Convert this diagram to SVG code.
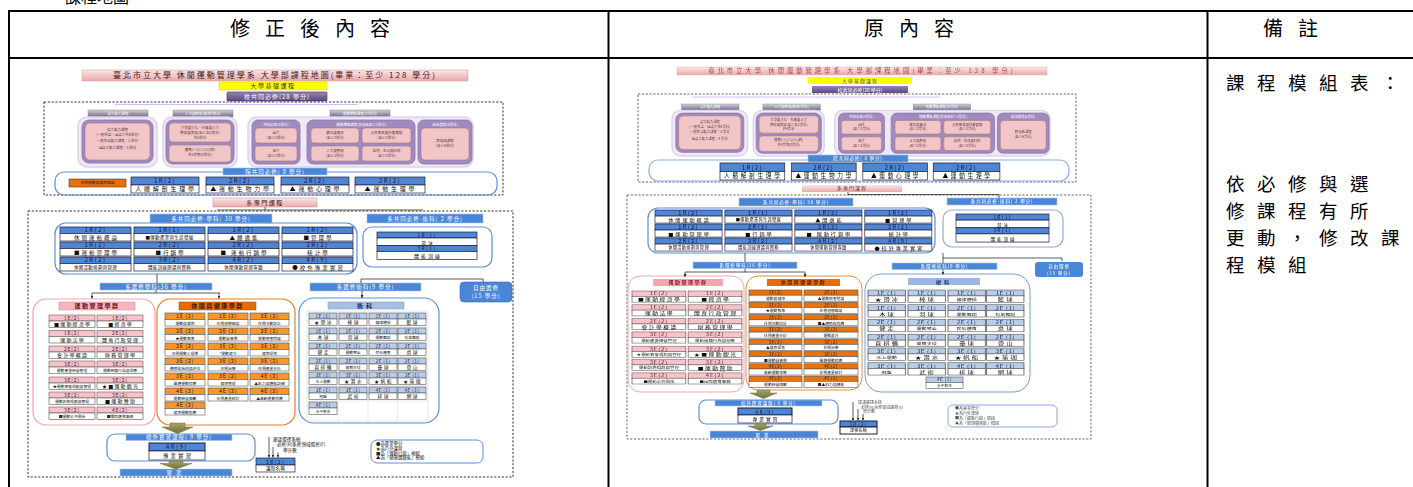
<svg xmlns="http://www.w3.org/2000/svg" width="1413" height="487" viewBox="0 0 1413 487">
<defs>
<style>
text{font-family:"Noto Sans CJK TC","Noto Sans CJK SC","Liberation Sans",sans-serif}
.hd{font-size:20px;letter-spacing:15px;fill:#000}
.rm{font-size:18.5px;letter-spacing:12.5px;fill:#000}
.tb{stroke:#000;stroke-width:2;fill:none}
.dash{fill:none;stroke:#333;stroke-width:1;stroke-dasharray:2.2 1.6}
.bb{fill:#4a86d6;stroke:#a9c2e8;stroke-width:0.6}
.bt{fill:#fff;font-size:5.5px;text-anchor:middle;letter-spacing:1px}
.bts{fill:#fff;font-size:4.6px;text-anchor:middle;letter-spacing:0.8px}
.ob{fill:none;stroke:#5b8fd8;stroke-width:1.2}
.ct{fill:#4f86d4;stroke:#1d1d3d;stroke-width:0.7}
.cw{fill:#fff;stroke:#1d1d3d;stroke-width:0.7}
.tl{font-size:6px;text-anchor:middle;fill:#14143a;letter-spacing:1.5px}
.tx{font-size:5.5px;text-anchor:middle;fill:#111;letter-spacing:2px}
.tx2{font-size:6px;text-anchor:middle;fill:#111;letter-spacing:2.8px}
.ts{font-size:4.5px;text-anchor:middle;fill:#111;letter-spacing:0.3px}
.pk{fill:#f7c3ca;stroke:#6e5a5a;stroke-width:0.6}
.og{fill:#f7962a;stroke:#555;stroke-width:0.6}
.og2{fill:#e8730f;stroke:#555;stroke-width:0.6}
.lb{fill:#b9cde6;stroke:#555;stroke-width:0.6}
.wb{fill:#fff;stroke:#555;stroke-width:0.6}
.tp{font-size:5px;text-anchor:middle;fill:#6a1020;letter-spacing:0.8px}
.tp2{font-size:5.5px;text-anchor:middle;fill:#222;letter-spacing:0.6px}
.tp3{font-size:4.8px;text-anchor:middle;fill:#1a2a5a;letter-spacing:0.4px}
.tm{font-size:5px;text-anchor:middle;fill:#111;letter-spacing:1.2px}
.tpe{font-size:4.8px;text-anchor:middle;fill:#111;letter-spacing:1.5px}
.tms{font-size:3.8px;text-anchor:middle;fill:#222}
.lav{fill:#efe9f6;stroke:#ddd3ea;stroke-width:1.5}
.pur{fill:#a08ac0;stroke:#8a74aa;stroke-width:0.8}
.pnk{fill:#f2c6c6;stroke:#a07a80;stroke-width:0.6}
.cat{fill:url(#gcat);stroke:#777;stroke-width:0.4}
.tiny{font-size:3.5px;text-anchor:middle;fill:#5a3a4a}
.tcat{font-size:3.5px;text-anchor:middle;fill:#fff}
.conn{stroke:#333;stroke-width:0.8;fill:none}
.olive{fill:url(#golive);stroke:#6b6b3a;stroke-width:0.5}
.gh{font-size:6px;text-anchor:middle;letter-spacing:1.5px;font-weight:bold}
.nt{font-size:4.6px;fill:#222}
.ntr{font-size:4px;fill:#555}
</style>
<linearGradient id="gpink" x1="0" y1="0" x2="0" y2="1"><stop offset="0" stop-color="#fbe6e6"/><stop offset="1" stop-color="#e9a9a9"/></linearGradient>
<linearGradient id="gpur" x1="0" y1="0" x2="0" y2="1"><stop offset="0" stop-color="#9a84bb"/><stop offset="1" stop-color="#5a477a"/></linearGradient>
<linearGradient id="gcat" x1="0" y1="0" x2="0" y2="1"><stop offset="0" stop-color="#d5d0e0"/><stop offset="1" stop-color="#6d6a80"/></linearGradient>
<linearGradient id="golive" x1="0" y1="0" x2="0" y2="1"><stop offset="0" stop-color="#a5a566"/><stop offset="1" stop-color="#6e6e38"/></linearGradient>
<filter id="soft" x="-5%" y="-5%" width="110%" height="110%"><feGaussianBlur stdDeviation="0.45"/></filter>
<marker id="ar" viewBox="0 0 4 4" refX="4" refY="2" markerWidth="3" markerHeight="3" orient="auto" markerUnits="userSpaceOnUse"><path d="M0,0L4,2L0,4z" fill="#222"/></marker>
</defs>
<rect x="0" y="0" width="1413" height="487" fill="#fff"/>
<text x="65" y="3" style="font-size:16px;fill:#000">課程地圖</text>

<g id="table">
<line class="tb" x1="8" y1="11" x2="1413" y2="11"/>
<line class="tb" x1="9" y1="10" x2="9" y2="487"/>
<line class="tb" x1="8" y1="58" x2="1413" y2="58"/>
<line class="tb" x1="608.5" y1="10" x2="608.5" y2="487"/>
<line class="tb" x1="1207.5" y1="10" x2="1207.5" y2="487"/>
<text class="hd" x="230" y="36">修正後內容</text>
<text class="hd" x="864" y="36">原內容</text>
<text class="hd" x="1263" y="36">備註</text>
</g>

<g id="remark">
<text class="rm" x="1226" y="90">課程模組表：</text>
<text class="rm" x="1226" y="191">依必修與選</text>
<text class="rm" x="1226" y="218">修課程有所</text>
<text class="rm" x="1226" y="245">更動，修改課</text>
<text class="rm" x="1226" y="272">程模組</text>
</g>

<!-- ============ LEFT: revised map ============ -->
<g id="left-map">
<g id="L-title"><rect x="82" y="70" width="386" height="11" fill="url(#gpink)" stroke="#d8a8a8" stroke-width="0.6"/><text x="275" y="78.3" style="font-size:8px;letter-spacing:2px;fill:#4a1818;text-anchor:middle">臺北市立大學 休閒運動管理學系 大學部課程地圖(畢業：至少 128 學分)</text></g>
<g id="L-basic"><rect x="219" y="82" width="108" height="8" fill="#ffff00" stroke="#d0d000" stroke-width="0.5"/><text x="273" y="88.3" style="font-size:6px;letter-spacing:1.5px;text-anchor:middle;fill:#333">大學基礎課程</text></g>
<g id="L-univ"><rect x="227" y="92" width="100" height="9" rx="1" fill="url(#gpur)" stroke="#3f3060" stroke-width="0.6"/><text x="277" y="98.8" style="font-size:6px;letter-spacing:1px;text-anchor:middle;fill:#fff">校共同必修(28 學分)</text></g>
<rect class="dash" x="44" y="102" width="459" height="93"/>
<line x1="115" y1="104.5" x2="358" y2="104.5" stroke="#dcb8f4" stroke-width="1.2"/>
<line x1="277" y1="101" x2="277" y2="104.5" stroke="#dcb8f4" stroke-width="1.2"/>

<g id="L-gen">
<rect class="cat" x="88" y="110" width="60" height="7"/><text class="tcat" x="118" y="114.8">語文能力課程</text>
<rect class="cat" x="173" y="110" width="60" height="7"/><text class="tcat" x="203" y="114.8">人文與藝術(應用7學分)</text>
<rect class="cat" x="330" y="110" width="60" height="7"/><text class="tcat" x="360" y="114.8">通識博雅課程(22學分)</text>
<rect class="lav" x="78" y="117" width="79" height="50" rx="9"/>
<rect class="pur" x="82" y="120" width="71" height="43" rx="7"/>
<rect class="pnk" x="85" y="123" width="65" height="37" rx="5"/>
<text class="tiny" x="117.5" y="131">語文能力課程</text><text class="tiny" x="117.5" y="136">(一般外語、國語文共6學分)</text><text class="tiny" x="117.5" y="142">一般外語能力課程：2 學分</text><text class="tiny" x="117.5" y="149">國語文能力課程：4 學分</text>
<rect class="lav" x="163" y="117" width="74" height="50" rx="9"/>
<rect class="pur" x="166" y="120" width="68" height="44" rx="7"/>
<rect class="pnk" x="169" y="123" width="62" height="19" rx="4"/>
<rect class="pnk" x="169" y="145" width="62" height="17" rx="4"/>
<text class="tiny" x="200" y="129">文學與文化、社會與人文</text><text class="tiny" x="200" y="134">藝術與美感(至少各2學分)</text><text class="tiny" x="200" y="139">共4學分</text>
<text class="tiny" x="200" y="151">體育(一)(二)(三)(四)</text><text class="tiny" x="200" y="156">共4學期(0學分)</text>
<rect class="lav" x="248" y="117" width="225" height="50" rx="9"/>
<rect class="pur" x="252" y="120" width="48" height="44" rx="6"/>
<text class="tiny" x="276" y="125.5" style="fill:#fff">共同必修(4學分)</text>
<rect class="pnk" x="255" y="128" width="42" height="15" rx="3"/><text class="tiny" x="276" y="134">國文</text><text class="tiny" x="276" y="139">(至少2學分)</text>
<rect class="pnk" x="255" y="146" width="42" height="15" rx="3"/><text class="tiny" x="276" y="152">英文</text><text class="tiny" x="276" y="157">(至少2學分)</text>
<rect class="pur" x="307" y="120" width="108" height="44" rx="6"/>
<text class="tiny" x="361" y="125.5" style="fill:#fff">通識博雅課程(各領域至少2學分)</text>
<rect class="pnk" x="311" y="128" width="48" height="15" rx="3"/><text class="tiny" x="335" y="134">數位與資訊</text><text class="tiny" x="335" y="139">(至少2學分)</text>
<rect class="pnk" x="362" y="128" width="49" height="15" rx="3"/><text class="tiny" x="386.5" y="134">公民素養與社會實踐</text><text class="tiny" x="386.5" y="139">(至少2學分)</text>
<rect class="pnk" x="311" y="146" width="48" height="15" rx="3"/><text class="tiny" x="335" y="152">人文與藝術</text><text class="tiny" x="335" y="157">(至少2學分)</text>
<rect class="pnk" x="362" y="146" width="49" height="15" rx="3"/><text class="tiny" x="386.5" y="152">自然、生命與科技</text><text class="tiny" x="386.5" y="157">(至少2學分)</text>
<rect class="pur" x="418" y="120" width="54" height="44" rx="6"/>
<text class="tiny" x="445" y="125.5" style="fill:#fff">自由選修(6學分)</text>
<rect class="pnk" x="421" y="128" width="48" height="32" rx="4"/><text class="tiny" x="445" y="142">跨領域課程</text><text class="tiny" x="445" y="147">(至少6學分)</text>
</g>

<g id="L-college">
<rect class="ob" x="55" y="172" width="442" height="23" rx="9"/>
<rect class="bb" x="223" y="168" width="104" height="7"/><text class="bt" x="275" y="173.6">院共同必修( 8 學分)</text>
<rect x="69" y="179" width="57" height="8" fill="#e8700f" stroke="#222" stroke-width="0.5"/><text class="tms" x="97.5" y="184.4">休閒運動與健康概論</text>
</g>
<g id="L-core">
<rect class="ct" x="131" y="177" width="68" height="8"/><rect class="cw" x="131" y="185" width="68" height="8"/><text class="tl" x="165" y="183.2">1R(2)</text><text class="tx2" x="166" y="191.3">人體解剖生理學</text>
<rect class="ct" x="206" y="177" width="68" height="8"/><rect class="cw" x="206" y="185" width="68" height="8"/><text class="tl" x="240" y="183.2">2R(2)</text><text class="tx2" x="241" y="191.3">▲運動生物力學</text>
<rect class="ct" x="281" y="177" width="68" height="8"/><rect class="cw" x="281" y="185" width="68" height="8"/><text class="tl" x="315" y="183.2">2R(2)</text><text class="tx2" x="316" y="191.3">▲運動心理學</text>
<rect class="ct" x="355" y="177" width="70" height="8"/><rect class="cw" x="355" y="185" width="70" height="8"/><text class="tl" x="390" y="183.2">2R(2)</text><text class="tx2" x="391" y="191.3">▲運動生理學</text>
</g>

<g id="L-dept"><rect x="213" y="198" width="104" height="9" fill="url(#gpink)" stroke="#d0a0a0" stroke-width="0.6"/><text x="265" y="204.6" style="font-size:6px;letter-spacing:1.5px;text-anchor:middle;fill:#3a1a1a">系專門課程</text></g>
<rect class="dash" x="28" y="211" width="485" height="266"/>

<g id="L-reqbar"><rect class="bb" x="150" y="214" width="122" height="9"/><text class="bt" x="211" y="220.6">系共同必修-學科( 30 學分)</text></g>
<g id="L-reqpebar"><rect class="bb" x="367" y="214" width="116" height="9"/><text class="bt" x="425" y="220.6">系共同必修-術科( 2 學分)</text></g>
<rect class="ob" x="55" y="223" width="302" height="51" rx="11"/>
<g id="L-req">
<rect class="ct" x="60" y="227" width="71" height="6.5"/><rect class="cw" x="60" y="233.5" width="71" height="7.5"/><text class="tl" x="95.5" y="232.3">1R(2)</text><text class="tx" x="96.5" y="239.6">休閒運動概論</text>
<rect class="ct" x="134" y="227" width="71" height="6.5"/><rect class="cw" x="134" y="233.5" width="71" height="7.5"/><text class="tl" x="169.5" y="232.3">1R(1)</text><text class="ts" x="169.5" y="239.3">■運動產業與生涯發展</text>
<rect class="ct" x="208" y="227" width="71" height="6.5"/><rect class="cw" x="208" y="233.5" width="71" height="7.5"/><text class="tl" x="243.5" y="232.3">1R(2)</text><text class="tx" x="244.5" y="239.6">▲體適能</text>
<rect class="ct" x="282" y="227" width="71" height="6.5"/><rect class="cw" x="282" y="233.5" width="71" height="7.5"/><text class="tl" x="317.5" y="232.3">1R(2)</text><text class="tx" x="318.5" y="239.6">■管理學</text>
<rect class="ct" x="60" y="242" width="71" height="6.5"/><rect class="cw" x="60" y="248.5" width="71" height="7.5"/><text class="tl" x="95.5" y="247.3">1R(2)</text><text class="tx" x="96.5" y="254.6">■運動管理學</text>
<rect class="ct" x="134" y="242" width="71" height="6.5"/><rect class="cw" x="134" y="248.5" width="71" height="7.5"/><text class="tl" x="169.5" y="247.3">2R(2)</text><text class="tx" x="170.5" y="254.6">■行銷學</text>
<rect class="ct" x="208" y="242" width="71" height="6.5"/><rect class="cw" x="208" y="248.5" width="71" height="7.5"/><text class="tl" x="243.5" y="247.3">2R(2)</text><text class="tx" x="244.5" y="254.6">■ 運動行銷學</text>
<rect class="ct" x="282" y="242" width="71" height="6.5"/><rect class="cw" x="282" y="248.5" width="71" height="7.5"/><text class="tl" x="317.5" y="247.3">2R(2)</text><text class="tx" x="318.5" y="254.6">統計學</text>
<rect class="ct" x="60" y="257" width="71" height="6.5"/><rect class="cw" x="60" y="263.5" width="71" height="7.5"/><text class="tl" x="95.5" y="262.3">2R(2)</text><text class="ts" x="95.5" y="269.3">休閒活動規劃與管理</text>
<rect class="ct" x="134" y="257" width="71" height="6.5"/><rect class="cw" x="134" y="263.5" width="71" height="7.5"/><text class="tl" x="169.5" y="262.3">3R(2)</text><text class="ts" x="169.5" y="269.3">體能訓練理論與實務</text>
<rect class="ct" x="208" y="257" width="71" height="6.5"/><rect class="cw" x="208" y="263.5" width="71" height="7.5"/><text class="tl" x="243.5" y="262.3">4R(2)</text><text class="ts" x="243.5" y="269.3">休閒運動管理專題</text>
<rect class="ct" x="282" y="257" width="71" height="6.5"/><rect class="cw" x="282" y="263.5" width="71" height="7.5"/><text class="tl" x="317.5" y="262.3">4R(9)</text><text class="tx" x="318.5" y="269.6">●校外專業實習</text>
</g>
<rect class="ob" x="363" y="227" width="129" height="40" rx="9"/>
<g id="L-reqpe">
<rect class="ct" x="377" y="232" width="100" height="6"/><text class="tl" x="427" y="236.6" style="font-size:5px">1R(1)</text>
<rect class="cw" x="377" y="238" width="100" height="7.5"/><text class="tx" x="428" y="244.6" style="font-size:5px">游泳</text>
<rect class="ct" x="377" y="245.5" width="100" height="6"/><text class="tl" x="427" y="250.1" style="font-size:5px">3R(1)</text>
<rect class="cw" x="377" y="251.5" width="100" height="8"/><text class="tx" x="428" y="258" style="font-size:5px">體能訓練</text>
</g>

<g id="L-elbar"><rect class="bb" x="100" y="283" width="112" height="7"/><text class="bt" x="156" y="288.6">系選修學科(36 學分)</text></g>
<g id="L-elpebar"><rect class="bb" x="310" y="283" width="111" height="8"/><text class="bt" x="365.5" y="289">系選修術科(9 學分)</text></g>
<g id="L-free"><rect x="460" y="282" width="52" height="20" rx="4" fill="#4a86d6" stroke="#3a6ab0" stroke-width="0.6"/><text class="bt" x="486" y="290">自由選修</text><text class="bt" x="486" y="298">(15 學分)</text></g>

<g id="L-mgmt-group">
<rect x="33" y="299" width="122" height="126" rx="13" fill="none" stroke="#f5a3ab" stroke-width="1.2"/>
<rect x="59" y="302" width="76" height="8" fill="#f5b5bd" stroke="#c89098" stroke-width="0.5"/><text class="gh" x="97" y="308.3" style="fill:#6a1020">運動管理學群</text>
</g>
<g id="L-mgmt">
<rect class="pk" x="49" y="315" width="46" height="6"/><rect class="wb" x="49" y="321" width="46" height="6.5"/><text class="tp" x="72" y="319.9">1E(2)</text><text class="tm" x="72.6" y="326.3">■運動經濟學</text>
<rect class="pk" x="97" y="315" width="46" height="6"/><rect class="wb" x="97" y="321" width="46" height="6.5"/><text class="tp" x="120" y="319.9">1E(2)</text><text class="tm" x="120.6" y="326.3">■經濟學</text>
<rect class="pk" x="49" y="330.5" width="46" height="6"/><rect class="wb" x="49" y="336.5" width="46" height="6.5"/><text class="tp" x="72" y="335.4">1E(2)</text><text class="tm" x="72.6" y="341.8">運動法學</text>
<rect class="pk" x="97" y="330.5" width="46" height="6"/><rect class="wb" x="97" y="336.5" width="46" height="6.5"/><text class="tp" x="120" y="335.4">2E(2)</text><text class="tm" x="120.6" y="341.8">體育行政管理</text>
<rect class="pk" x="49" y="346" width="46" height="6"/><rect class="wb" x="49" y="352" width="46" height="6.5"/><text class="tp" x="72" y="350.9">2E(2)</text><text class="tm" x="72.6" y="357.3">會計學概論</text>
<rect class="pk" x="97" y="346" width="46" height="6"/><rect class="wb" x="97" y="352" width="46" height="6.5"/><text class="tp" x="120" y="350.9">2E(2)</text><text class="tm" x="120.6" y="357.3">財務管理學</text>
<rect class="pk" x="49" y="361" width="46" height="6"/><rect class="wb" x="49" y="367" width="46" height="6.5"/><text class="tp" x="72" y="365.9">3E(2)</text><text class="tms" x="72" y="372.1">運動產業經營管理</text>
<rect class="pk" x="97" y="361" width="46" height="6"/><rect class="wb" x="97" y="367" width="46" height="6.5"/><text class="tp" x="120" y="365.9">3E(2)</text><text class="tms" x="120" y="372.1">運動組織行為與領導</text>
<rect class="pk" x="49" y="377" width="46" height="6"/><rect class="wb" x="49" y="383" width="46" height="6.5"/><text class="tp" x="72" y="381.9">3E(2)</text><text class="tms" x="72" y="388.1">★運動賽會規劃與管理</text>
<rect class="pk" x="97" y="377" width="46" height="6"/><rect class="wb" x="97" y="383" width="46" height="6.5"/><text class="tp" x="120" y="381.9">3E(2)</text><text class="tm" x="120.6" y="388.3">★■運動觀光</text>
<rect class="pk" x="49" y="392" width="46" height="6"/><rect class="wb" x="49" y="398" width="46" height="6.5"/><text class="tp" x="72" y="396.9">3E(2)</text><text class="tms" x="72" y="403.1">運動設施規劃與管理</text>
<rect class="pk" x="97" y="392" width="46" height="6"/><rect class="wb" x="97" y="398" width="46" height="6.5"/><text class="tp" x="120" y="396.9">3E(2)</text><text class="tm" x="120.6" y="403.3">■運動贊助</text>
<rect class="pk" x="49" y="407" width="46" height="6"/><rect class="wb" x="49" y="413" width="46" height="6.5"/><text class="tp" x="72" y="411.9">3E(2)</text><text class="tms" x="72" y="418.1">■運動公共關係</text>
<rect class="pk" x="97" y="407" width="46" height="6"/><rect class="wb" x="97" y="413" width="46" height="6.5"/><text class="tp" x="120" y="411.9">4E(2)</text><text class="tms" x="120" y="418.1">■國際體育事務</text>
</g>

<g id="L-leisure-group">
<rect x="157" y="299" width="138" height="126" rx="13" fill="none" stroke="#ec7d22" stroke-width="1.2"/>
<rect x="179" y="302" width="77" height="8" fill="#e46c0a" stroke="#a04a08" stroke-width="0.5"/><text class="gh" x="217.5" y="308.3" style="fill:#3a1a00">休閒與健康學群</text>
</g>
<g id="L-leisure">
<rect class="og" x="165" y="313" width="40" height="6.5"/><rect class="wb" x="165" y="319.5" width="40" height="6.5"/><text class="tp2" x="185" y="318.2">1E (2)</text><text class="tms" x="185" y="324.5">運動與健康</text>
<rect class="og" x="208" y="313" width="40" height="6.5"/><rect class="wb" x="208" y="319.5" width="40" height="6.5"/><text class="tp2" x="228" y="318.2">1E (2)</text><text class="tms" x="228" y="324.5">休閒遊憩概論</text>
<rect class="og" x="250" y="313" width="39" height="6.5"/><rect class="wb" x="250" y="319.5" width="39" height="6.5"/><text class="tp2" x="269.5" y="318.2">2E (2)</text><text class="tms" x="269.5" y="324.5">休閒活動設計</text>
<rect class="og" x="165" y="328" width="40" height="6.5"/><rect class="wb" x="165" y="334.5" width="40" height="6.5"/><text class="tp2" x="185" y="333.2">2E (2)</text><text class="tms" x="185" y="339.5">★運動教育</text>
<rect class="og" x="208" y="328" width="40" height="6.5"/><rect class="wb" x="208" y="334.5" width="40" height="6.5"/><text class="tp2" x="228" y="333.2">2E (2)</text><text class="tms" x="228" y="339.5">運動營養學</text>
<rect class="og" x="250" y="328" width="39" height="6.5"/><rect class="wb" x="250" y="334.5" width="39" height="6.5"/><text class="tp2" x="269.5" y="333.2">2E (2)</text><text class="tms" x="269.5" y="339.5">運動傷害防護</text>
<rect class="og" x="165" y="343" width="40" height="6.5"/><rect class="wb" x="165" y="349.5" width="40" height="6.5"/><text class="tp2" x="185" y="348.2">2E (2)</text><text class="tms" x="185" y="354.5">休閒運動心理學</text>
<rect class="og" x="208" y="343" width="40" height="6.5"/><rect class="wb" x="208" y="349.5" width="40" height="6.5"/><text class="tp2" x="228" y="348.2">3E (2)</text><text class="tms" x="228" y="354.5">*運動處方</text>
<rect class="og" x="250" y="343" width="39" height="6.5"/><rect class="wb" x="250" y="349.5" width="39" height="6.5"/><text class="tp2" x="269.5" y="348.2">3E (2)</text><text class="tms" x="269.5" y="354.5">健康促進</text>
<rect class="og" x="165" y="358" width="40" height="6.5"/><rect class="wb" x="165" y="364.5" width="40" height="6.5"/><text class="tp2" x="185" y="363.2">3E (2)</text><text class="tms" x="185" y="369.5">體適能檢測與評估</text>
<rect class="og" x="208" y="358" width="40" height="6.5"/><rect class="wb" x="208" y="364.5" width="40" height="6.5"/><text class="tp2" x="228" y="363.2">3E (2)</text><text class="tms" x="228" y="369.5">休閒治療</text>
<rect class="og" x="250" y="358" width="39" height="6.5"/><rect class="wb" x="250" y="364.5" width="39" height="6.5"/><text class="tp2" x="269.5" y="363.2">3E (2)</text><text class="tms" x="269.5" y="369.5">休閒產業分析</text>
<rect class="og" x="165" y="373" width="40" height="6.5"/><rect class="wb" x="165" y="379.5" width="40" height="6.5"/><text class="tp2" x="185" y="378.2">3E (2)</text><text class="tms" x="185" y="384.5">團體運動指導</text>
<rect class="og" x="208" y="373" width="40" height="6.5"/><rect class="wb" x="208" y="379.5" width="40" height="6.5"/><text class="tp2" x="228" y="378.2">3E (2)</text><text class="tms" x="228" y="384.5">健康管理</text>
<rect class="og" x="250" y="373" width="39" height="6.5"/><rect class="wb" x="250" y="379.5" width="39" height="6.5"/><text class="tp2" x="269.5" y="378.2">4E (2)</text><text class="tms" x="269.5" y="384.5">▲肌力與體能訓練</text>
<rect class="og" x="165" y="388" width="40" height="6.5"/><rect class="wb" x="165" y="394.5" width="40" height="6.5"/><text class="tp2" x="185" y="393.2">4E (2)</text><text class="tms" x="185" y="399.5">運動經營個案</text>
<rect class="og" x="208" y="388" width="40" height="6.5"/><rect class="wb" x="208" y="394.5" width="40" height="6.5"/><text class="tp2" x="228" y="393.2">4E (2)</text><text class="tms" x="228" y="399.5">休閒產業研討</text>
<rect class="og" x="250" y="388" width="39" height="6.5"/><rect class="wb" x="250" y="394.5" width="39" height="6.5"/><text class="tp2" x="269.5" y="393.2">4E (2)</text><text class="tms" x="269.5" y="399.5">▲高齡運動指導</text>
<rect class="og" x="165" y="402" width="40" height="6.5"/><rect class="wb" x="165" y="408.5" width="40" height="6.5"/><text class="tp2" x="185" y="407.2">4E (2)</text><text class="tms" x="185" y="413.5">健康運動指導</text>
</g>

<g id="L-pe-group">
<rect x="299" y="298" width="140" height="125" rx="15" fill="none" stroke="#5b8fd8" stroke-width="1.2"/>
<rect x="328" y="302" width="76" height="7" fill="#a6bee3" stroke="#8098c0" stroke-width="0.5"/><text class="gh" x="366" y="307.8" style="fill:#1a2a5a;letter-spacing:3px">術科</text>
<rect x="307" y="311" width="121" height="110" fill="#fff" stroke="#cfcfcf" stroke-width="0.5"/>
<path d="M338,311V421M368,311V421M397.5,311V421M307,327H428M307,342H428M307,357H428M307,371H428M307,386H428M307,401H428" stroke="#d6d6d6" stroke-width="0.5"/>
</g>
<g id="L-pe6">
<rect class="lb" x="309" y="313" width="28" height="6"/><rect class="wb" x="309" y="319" width="28" height="6.5"/><text class="tp3" x="323" y="317.9">1E (1)</text><text class="tpe" x="323.7" y="324.2">★滑冰</text>
<rect class="lb" x="339" y="313" width="28" height="6"/><rect class="wb" x="339" y="319" width="28" height="6.5"/><text class="tp3" x="353" y="317.9">1E (1)</text><text class="tpe" x="353.7" y="324.2">棒球</text>
<rect class="lb" x="369" y="313" width="28" height="6"/><rect class="wb" x="369" y="319" width="28" height="6.5"/><text class="tp3" x="383" y="317.9">1E (1)</text><text class="tms" x="383" y="324">韻律體操</text>
<rect class="lb" x="398" y="313" width="28" height="6"/><rect class="wb" x="398" y="319" width="28" height="6.5"/><text class="tp3" x="412" y="317.9">1E (1)</text><text class="tpe" x="412.7" y="324.2">籃球</text>
<rect class="lb" x="309" y="328" width="28" height="6"/><rect class="wb" x="309" y="334" width="28" height="6.5"/><text class="tp3" x="323" y="332.9">1E (1)</text><text class="tpe" x="323.7" y="339.2">木球</text>
<rect class="lb" x="339" y="328" width="28" height="6"/><rect class="wb" x="339" y="334" width="28" height="6.5"/><text class="tp3" x="353" y="332.9">1E (1)</text><text class="tpe" x="353.7" y="339.2">羽球</text>
<rect class="lb" x="369" y="328" width="28" height="6"/><rect class="wb" x="369" y="334" width="28" height="6.5"/><text class="tp3" x="383" y="332.9">2E (1)</text><text class="tms" x="383" y="339">運動舞蹈</text>
<rect class="lb" x="398" y="328" width="28" height="6"/><rect class="wb" x="398" y="334" width="28" height="6.5"/><text class="tp3" x="412" y="332.9">2E (1)</text><text class="tms" x="412" y="339">有氧舞蹈</text>
<rect class="lb" x="309" y="343" width="28" height="6"/><rect class="wb" x="309" y="349" width="28" height="6.5"/><text class="tp3" x="323" y="347.9">2E (1)</text><text class="tpe" x="323.7" y="354.2">健走</text>
<rect class="lb" x="339" y="343" width="28" height="6"/><rect class="wb" x="339" y="349" width="28" height="6.5"/><text class="tp3" x="353" y="347.9">2E (1)</text><text class="tms" x="353" y="354">運動攀岩</text>
<rect class="lb" x="369" y="343" width="28" height="6"/><rect class="wb" x="369" y="349" width="28" height="6.5"/><text class="tp3" x="383" y="347.9">2E (1)</text><text class="tms" x="383" y="354">民俗體育</text>
<rect class="lb" x="398" y="343" width="28" height="6"/><rect class="wb" x="398" y="349" width="28" height="6.5"/><text class="tp3" x="412" y="347.9">2E (1)</text><text class="tpe" x="412.7" y="354.2">桌球</text>
<rect class="lb" x="309" y="358" width="28" height="6"/><rect class="wb" x="309" y="364" width="28" height="6.5"/><text class="tp3" x="323" y="362.9">2E (1)</text><text class="tpe" x="323.7" y="369.2">直排輪</text>
<rect class="lb" x="339" y="358" width="28" height="6"/><rect class="wb" x="339" y="364" width="28" height="6.5"/><text class="tp3" x="353" y="362.9">2E (1)</text><text class="tms" x="353" y="369">高爾夫球</text>
<rect class="lb" x="369" y="358" width="28" height="6"/><rect class="wb" x="369" y="364" width="28" height="6.5"/><text class="tp3" x="383" y="362.9">2E (1)</text><text class="tpe" x="383.7" y="369.2">壘球</text>
<rect class="lb" x="398" y="358" width="28" height="6"/><rect class="wb" x="398" y="364" width="28" height="6.5"/><text class="tp3" x="412" y="362.9">2E (1)</text><text class="tpe" x="412.7" y="369.2">登山</text>
<rect class="lb" x="309" y="372" width="28" height="6"/><rect class="wb" x="309" y="378" width="28" height="6.5"/><text class="tp3" x="323" y="376.9">3E (1)</text><text class="tms" x="323" y="383">水上運動</text>
<rect class="lb" x="339" y="372" width="28" height="6"/><rect class="wb" x="339" y="378" width="28" height="6.5"/><text class="tp3" x="353" y="376.9">3E (1)</text><text class="tpe" x="353.7" y="383.2">★潛水</text>
<rect class="lb" x="369" y="372" width="28" height="6"/><rect class="wb" x="369" y="378" width="28" height="6.5"/><text class="tp3" x="383" y="376.9">3E (1)</text><text class="tpe" x="383.7" y="383.2">★帆船</text>
<rect class="lb" x="398" y="372" width="28" height="6"/><rect class="wb" x="398" y="378" width="28" height="6.5"/><text class="tp3" x="412" y="376.9">3E (1)</text><text class="tpe" x="412.7" y="383.2">★瑜珈</text>
<rect class="lb" x="309" y="387" width="28" height="6"/><rect class="wb" x="309" y="393" width="28" height="6.5"/><text class="tp3" x="323" y="391.9">3E (1)</text><text class="tms" x="323" y="398">飛盤</text>
<rect class="lb" x="339" y="387" width="28" height="6"/><rect class="wb" x="339" y="393" width="28" height="6.5"/><text class="tp3" x="353" y="391.9">3E (1)</text><text class="tpe" x="353.7" y="398.2">武術</text>
<rect class="lb" x="369" y="387" width="28" height="6"/><rect class="wb" x="369" y="393" width="28" height="6.5"/><text class="tp3" x="383" y="391.9">4E (1)</text><text class="tpe" x="383.7" y="398.2">排球</text>
<rect class="lb" x="398" y="387" width="28" height="6"/><rect class="wb" x="398" y="393" width="28" height="6.5"/><text class="tp3" x="412" y="391.9">4E (1)</text><text class="tpe" x="412.7" y="398.2">網球</text>
</g>
<g id="L-pe7">
<rect class="lb" x="309" y="402" width="28" height="6"/><rect class="wb" x="309" y="408" width="28" height="6.5"/><text class="tp3" x="323" y="406.9">4E (1)</text><text class="tms" x="323" y="413">水中救生</text>
</g>

<g id="L-intern">
<rect class="ob" x="107" y="434" width="148" height="27" rx="8"/>
<rect class="bb" x="126" y="434" width="106" height="6.5"/><text class="bt" x="179" y="439.4">校外實習課程( 9 學分)</text>
<rect class="ct" x="149" y="443" width="56" height="8" style="stroke-width:1"/><text class="tl" x="177" y="449.3">4R(9)</text>
<rect class="cw" x="149" y="451" width="56" height="9"/><text class="tx" x="178" y="458.2">專業實習</text>
</g>
<g id="L-grad"><rect class="bb" x="120" y="469" width="112" height="7"/><text class="bt" x="176" y="474.6" style="letter-spacing:4px">畢業</text></g>

<g id="L-note">
<text class="nt" x="273" y="440.5">建議選擇系統</text>
<text class="nt" x="277" y="446">必修(R)系修領域選修(E)</text>
<text class="nt" x="283" y="451.5">學分數</text>
<rect class="ct" x="256" y="458" width="39" height="7"/><text class="tl" x="275.5" y="463.6" style="font-size:5px">3R(2)</text>
<rect class="cw" x="256" y="465" width="39" height="7"/><text class="ts" x="275.5" y="470.4">課程名稱</text>
</g>
<g id="L-legend">
<rect x="371" y="440" width="112" height="23" rx="6" fill="#fff" stroke="#5b8fd8" stroke-width="1"/>
<text class="nt" x="376" y="445.3" style="font-size:4.4px">●為畢業學分</text>
<text class="nt" x="376" y="450" style="font-size:4.4px">★為戶外課程</text>
<text class="nt" x="376" y="454.7" style="font-size:4.4px">■為「運動行銷」模組</text>
<text class="nt" x="376" y="459.4" style="font-size:4.4px">▲為「健康體適能」模組</text>
</g>

<g id="L-connectors">
<path class="conn" d="M265,207V210M217,210H423"/>
<path class="conn" d="M157,274V283M156,290V293M92,293H220"/>
<line class="conn" x1="92" y1="293" x2="92" y2="298.5" marker-end="url(#ar)"/>
<line class="conn" x1="219" y1="293" x2="219" y2="298.5" marker-end="url(#ar)"/>
<path class="conn" d="M361,279V283M361,279H483V282"/>
<line class="conn" x1="362" y1="291" x2="362" y2="298" marker-end="url(#ar)"/>
<polygon class="olive" points="170,423 185,423 185,427 193,427 177.5,433.5 162,427 170,427"/>
<polygon class="olive" points="169,461 183,461 183,463.5 192,463.5 176,469 160,463.5 169,463.5"/>
<line class="conn" x1="269" y1="437" x2="269" y2="457.5" marker-end="url(#ar)"/>
<line class="conn" x1="273" y1="447" x2="273" y2="457.5" marker-end="url(#ar)"/>
<line class="conn" x1="278" y1="452.5" x2="278" y2="457.5" marker-end="url(#ar)"/>
</g>
</g>

<!-- ============ RIGHT: original map ============ -->
<g id="right-map" filter="url(#soft)">
<g id="R-title"><rect x="677" y="67" width="370" height="8" fill="url(#gpink)" stroke="#e0b0b0" stroke-width="0.5"/><text x="862" y="73.3" style="font-size:6.3px;letter-spacing:3px;fill:#b04848;text-anchor:middle">臺北市立大學 休閒運動管理學系 大學部課程地圖(畢業：至少 128 學分)</text></g>
<g id="R-basic"><rect x="808" y="77" width="104" height="7" fill="#ffff00"/><text x="860" y="82.6" style="font-size:5px;letter-spacing:1px;text-anchor:middle;fill:#555">大學基礎課程</text></g>
<g id="R-univ"><rect x="812" y="86" width="96" height="7" fill="url(#gpur)"/><text x="860" y="91.6" style="font-size:5px;text-anchor:middle;fill:#fff">校共同必修(28 學分)</text></g>
<rect class="dash" x="638" y="94" width="438" height="88" style="stroke:#666"/>
<line x1="693" y1="97" x2="940" y2="97" stroke="#dcb8f4" stroke-width="1"/>
<use href="#L-gen" transform="translate(672,104) scale(0.957,0.912) translate(-78,-110)"/>
<rect class="ob" x="649" y="160" width="420" height="21" rx="9" style="stroke:#8aaee0"/>
<g id="R-college"><rect class="bb" x="808" y="155" width="100" height="7"/><text class="bts" x="858" y="160.3">院共同必修( 8 學分)</text></g>
<use href="#L-core" transform="translate(720,163) scale(0.952,1.0625) translate(-131,-177)"/>
<g id="R-dept"><rect x="802" y="185" width="100" height="7" fill="url(#gpink)"/><text x="852" y="190.4" style="font-size:5px;letter-spacing:1px;text-anchor:middle;fill:#7a3a3a">系專門課程</text></g>
<rect class="dash" x="627" y="195" width="464" height="244" style="stroke:#666"/>
<g id="R-reqbar"><rect class="bb" x="739" y="198" width="114" height="8"/><text class="bts" x="796" y="203.6">系共同必修-學科( 30 學分)</text></g>
<g id="R-reqpebar"><rect class="bb" x="947" y="198" width="110" height="7"/><text class="bts" x="1002" y="203.2">系共同必修-術科( 2 學分)</text></g>
<rect class="ob" x="648" y="208" width="287" height="45" rx="10"/>
<use href="#L-req" transform="translate(655,210) scale(0.945,0.933) translate(-60,-227)"/>
<rect class="ob" x="943" y="210" width="120" height="37" rx="9" style="stroke:#8aaee0"/>
<use href="#L-reqpe" transform="translate(956,214) scale(0.93,1.02) translate(-377,-232)"/>
<g id="R-elbar"><rect class="bb" x="693" y="262" width="104" height="6.5"/><text class="bts" x="745" y="267">系選修學科(36 學分)</text></g>
<g id="R-elpebar"><rect class="bb" x="892" y="263" width="105" height="6.5"/><text class="bts" x="944.5" y="268">系選修術科(9 學分)</text></g>
<g id="R-free"><rect x="1035" y="262" width="48" height="15" rx="3" fill="#4a86d6"/><text class="bts" x="1059" y="268.3">自由選修</text><text class="bts" x="1059" y="274.5">(15 學分)</text></g>

<g id="R-mgmt-group">
<rect x="628" y="276" width="116" height="116" rx="12" fill="none" stroke="#f0a8b0" stroke-width="1"/>
<rect x="653" y="279" width="70" height="7" fill="#f3a5b0"/><text class="gh" x="688" y="284.3" style="font-size:5px;fill:#8a2030">運動管理學群</text>
</g>
<use href="#L-mgmt" transform="translate(632,291) scale(1.17,0.89) translate(-49,-315)"/>

<g id="R-leisure-group">
<rect x="746" y="276" width="116" height="114" rx="12" fill="none" stroke="#e8903a" stroke-width="1"/>
<rect x="767" y="279" width="73" height="7" fill="#e46c0a"/><text class="gh" x="803.5" y="284.3" style="font-size:5px;fill:#5a2000">休閒與健康學群</text>
</g>
<g id="R-leisure">
<rect class="og2" x="749" y="290" width="53" height="5.2"/><rect class="wb" x="749" y="295.2" width="53" height="6"/><text class="tp2" x="775.5" y="294.3" style="font-size:4.5px">1E(2)</text><text class="tms" x="775.5" y="300">運動與健康</text>
<rect class="og2" x="804" y="290" width="54" height="5.2"/><rect class="wb" x="804" y="295.2" width="54" height="6"/><text class="tp2" x="831" y="294.3" style="font-size:4.5px">2E(2)</text><text class="tms" x="831" y="300">▲運動傷害防護</text>
<rect class="og2" x="749" y="302.3" width="53" height="5.2"/><rect class="wb" x="749" y="307.5" width="53" height="6"/><text class="tp2" x="775.5" y="306.6" style="font-size:4.5px">2E(2)</text><text class="tms" x="775.5" y="312.3">★運動教育</text>
<rect class="og2" x="804" y="302.3" width="54" height="5.2"/><rect class="wb" x="804" y="307.5" width="54" height="6"/><text class="tp2" x="831" y="306.6" style="font-size:4.5px">2E(2)</text><text class="tms" x="831" y="312.3">休閒遊憩概論</text>
<rect class="og2" x="749" y="314.6" width="53" height="5.2"/><rect class="wb" x="749" y="319.8" width="53" height="6"/><text class="tp2" x="775.5" y="318.9" style="font-size:4.5px">2E(2)</text><text class="tms" x="775.5" y="324.6">休閒活動設計</text>
<rect class="og2" x="804" y="314.6" width="54" height="5.2"/><rect class="wb" x="804" y="319.8" width="54" height="6"/><text class="tp2" x="831" y="318.9" style="font-size:4.5px">2E(2)</text><text class="tms" x="831" y="324.6">■▲體適能指導</text>
<rect class="og2" x="749" y="326.9" width="53" height="5.2"/><rect class="wb" x="749" y="332.1" width="53" height="6"/><text class="tp2" x="775.5" y="331.2" style="font-size:4.5px">3E(2)</text><text class="tms" x="775.5" y="336.9">休閒產業分析</text>
<rect class="og2" x="804" y="326.9" width="54" height="5.2"/><rect class="wb" x="804" y="332.1" width="54" height="6"/><text class="tp2" x="831" y="331.2" style="font-size:4.5px">3E(2)</text><text class="tms" x="831" y="336.9">運動處方</text>
<rect class="og2" x="749" y="339.2" width="53" height="5.2"/><rect class="wb" x="749" y="344.4" width="53" height="6"/><text class="tp2" x="775.5" y="343.5" style="font-size:4.5px">3E(2)</text><text class="tms" x="775.5" y="349.2">▲健康促進</text>
<rect class="og2" x="804" y="339.2" width="54" height="5.2"/><rect class="wb" x="804" y="344.4" width="54" height="6"/><text class="tp2" x="831" y="343.5" style="font-size:4.5px">3E(2)</text><text class="tms" x="831" y="349.2">休閒治療</text>
<rect class="og2" x="749" y="351.5" width="53" height="5.2"/><rect class="wb" x="749" y="356.7" width="53" height="6"/><text class="tp2" x="775.5" y="355.8" style="font-size:4.5px">3E(2)</text><text class="tms" x="775.5" y="361.5">■運動營養學</text>
<rect class="og2" x="804" y="351.5" width="54" height="5.2"/><rect class="wb" x="804" y="356.7" width="54" height="6"/><text class="tp2" x="831" y="355.8" style="font-size:4.5px">3E(2)</text><text class="tms" x="831" y="361.5">團體運動指導</text>
<rect class="og2" x="749" y="363.8" width="53" height="5.2"/><rect class="wb" x="749" y="369" width="53" height="6"/><text class="tp2" x="775.5" y="368.1" style="font-size:4.5px">4E(2)</text><text class="tms" x="775.5" y="373.8">高齡運動指導</text>
<rect class="og2" x="804" y="363.8" width="54" height="5.2"/><rect class="wb" x="804" y="369" width="54" height="6"/><text class="tp2" x="831" y="368.1" style="font-size:4.5px">4E(2)</text><text class="tms" x="831" y="373.8">休閒產業研討</text>
<rect class="og2" x="749" y="376.1" width="53" height="5.2"/><rect class="wb" x="749" y="381.3" width="53" height="6"/><text class="tp2" x="775.5" y="380.4" style="font-size:4.5px">4E(2)</text><text class="tms" x="775.5" y="386.1">運動經營個案</text>
<rect class="og2" x="804" y="376.1" width="54" height="5.2"/><rect class="wb" x="804" y="381.3" width="54" height="6"/><text class="tp2" x="831" y="380.4" style="font-size:4.5px">4E(2)</text><text class="tms" x="831" y="386.1">■▲肌力與體能</text>
</g>

<g id="R-pe-group">
<rect x="865" y="274" width="165" height="118" rx="16" fill="none" stroke="#7a9cd0" stroke-width="1"/>
<rect x="908" y="278" width="72" height="7" fill="#9db7e0"/><text class="gh" x="944" y="283.5" style="font-size:5px;fill:#1a2a5a;letter-spacing:3px">術科</text>
</g>
<use href="#L-pe6" transform="translate(868,290) scale(1.333,0.983) translate(-309,-313)"/>
<g id="R-pe7"><rect class="lb" x="926" y="377" width="37" height="5.5"/><rect class="wb" x="926" y="382.5" width="37" height="6"/><text class="tp3" x="944.5" y="381.4">4E (1)</text><text class="tms" x="944.5" y="387.3">水中救生</text></g>

<g id="R-intern">
<rect class="ob" x="699" y="400" width="139" height="24" rx="7"/>
<rect class="bb" x="715" y="400" width="107" height="6"/><text class="bts" x="768.5" y="404.8">校外實習課程( 9 學分)</text>
<rect class="ct" x="738" y="408" width="54" height="7" style="stroke-width:1"/><text class="tl" x="765" y="413.5" style="font-size:5px">4R(9)</text>
<rect class="cw" x="738" y="415" width="54" height="8"/><text class="tx" x="766" y="421.3" style="font-size:4.8px">專業實習</text>
</g>
<g id="R-grad"><rect class="bb" x="710" y="431" width="108" height="7"/><text class="bts" x="764" y="436.5" style="letter-spacing:4px">畢業</text></g>
<g id="R-note">
<text class="ntr" x="858" y="404">建議選擇系統</text>
<text class="ntr" x="861" y="408.5">必修(R)系修領域選修(E)</text>
<text class="ntr" x="863" y="413">學分數</text>
<rect class="ct" x="840" y="421" width="37" height="6" style="stroke-width:1"/><text class="tl" x="858.5" y="425.8" style="font-size:4.5px">3R(2)</text>
<rect class="cw" x="840" y="427" width="37" height="7" style="stroke-width:1"/><text class="ts" x="858.5" y="432.3" style="font-size:4px">課程名稱</text>
</g>
<g id="R-legend">
<rect x="948" y="405" width="109" height="22" rx="5" fill="#fff" stroke="#8aa8d8" stroke-width="1"/>
<text class="ntr" x="955" y="410">●為畢業學分</text>
<text class="ntr" x="955" y="415">★為戶外課程</text>
<text class="ntr" x="955" y="420">■為「運動行銷」模組</text>
<text class="ntr" x="955" y="425">▲為「健康體適能」模組</text>
</g>
<g id="R-connectors">
<path class="conn" d="M848,192V195M848,194.5H999V198"/>
<path class="conn" d="M745,253V262M745,268.5V272M685,272H805"/>
<line class="conn" x1="685" y1="272" x2="685" y2="277" marker-end="url(#ar)"/>
<line class="conn" x1="805" y1="272" x2="805" y2="277" marker-end="url(#ar)"/>
<path class="conn" d="M943,253V263M943,258H1062V261"/>
<line class="conn" x1="943" y1="269.5" x2="943" y2="274.5" marker-end="url(#ar)"/>
<polygon class="olive" points="757,390 770,390 770,393 777,393 763.5,398.5 750,393 757,393"/>
<polygon class="olive" points="755,424 766,424 766,426 773,426 760.5,430.5 748,426 755,426"/>
<line class="conn" x1="853" y1="402" x2="853" y2="420.5" marker-end="url(#ar)"/>
<line class="conn" x1="858" y1="409" x2="858" y2="420.5" marker-end="url(#ar)"/>
<line class="conn" x1="863" y1="414" x2="863" y2="420.5" marker-end="url(#ar)"/>
</g>
</g>
</svg>
